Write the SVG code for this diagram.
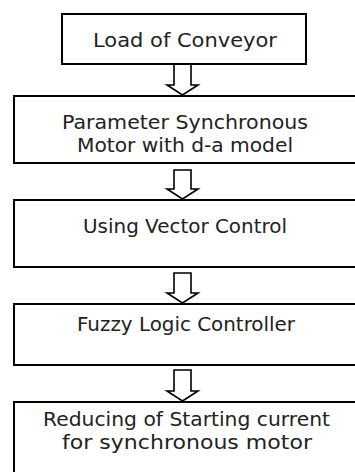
<svg xmlns="http://www.w3.org/2000/svg" width="355" height="472" viewBox="0 0 355 472">
<style>
.box{fill:#fff;stroke:#000;stroke-width:2}
.arr{fill:#fff;stroke:#000;stroke-width:1.6;stroke-linejoin:miter}
.t{font-family:"DejaVu Sans","Liberation Sans",sans-serif;font-size:20px;fill:#222;text-anchor:middle}
</style>
<rect width="355" height="472" fill="#fff"/>
<g id="connectors">
<polygon class="arr" points="174,64 191,64 191,85 198,85 182.5,95 167,85 174,85"/>
<polygon class="arr" points="174,170 191,170 191,189 198,189 182.5,199 167,189 174,189"/>
<polygon class="arr" points="174,273 191,273 191,293 198,293 182.5,303 167,293 174,293"/>
<polygon class="arr" points="174,370 191,370 191,391 198,391 182.5,401 167,391 174,391"/>
</g>
<g id="n1">
<rect class="box" x="62" y="14" width="244" height="50"/>
<text class="t" x="185" y="47" textLength="184" lengthAdjust="spacingAndGlyphs">Load of Conveyor</text>
</g>
<g id="n2">
<rect class="box" x="14" y="96" width="344" height="67"/>
<text class="t" x="185" y="129" textLength="246" lengthAdjust="spacingAndGlyphs">Parameter Synchronous</text>
<text class="t" x="185" y="152" textLength="216" lengthAdjust="spacingAndGlyphs">Motor with d-a model</text>
</g>
<g id="n3">
<rect class="box" x="14" y="200" width="344" height="67"/>
<text class="t" x="185" y="233" textLength="204" lengthAdjust="spacingAndGlyphs">Using Vector Control</text>
</g>
<g id="n4">
<rect class="box" x="14" y="304" width="344" height="61"/>
<text class="t" x="186" y="331" textLength="218" lengthAdjust="spacingAndGlyphs">Fuzzy Logic Controller</text>
</g>
<g id="n5">
<rect class="box" x="14" y="402" width="344" height="80"/>
<text class="t" x="186.5" y="426" textLength="287" lengthAdjust="spacingAndGlyphs">Reducing of Starting current</text>
<text class="t" x="187" y="449" textLength="250" lengthAdjust="spacingAndGlyphs">for synchronous motor</text>
</g>
</svg>
